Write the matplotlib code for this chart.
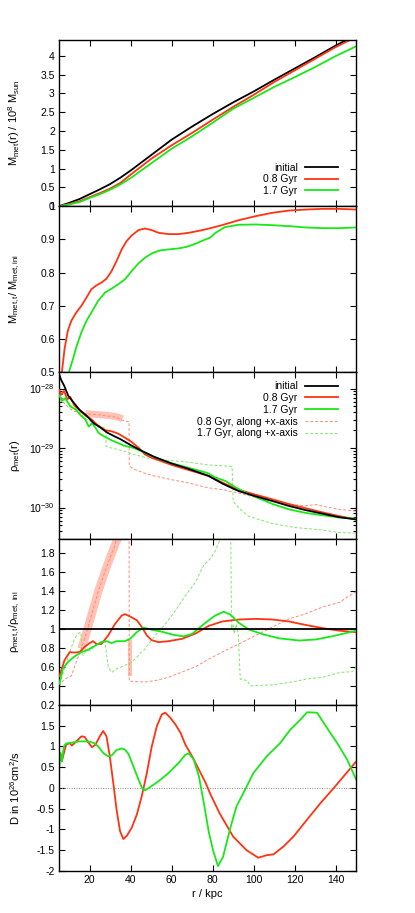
import numpy as np
import matplotlib
matplotlib.use("Agg")
import matplotlib.pyplot as plt
from matplotlib.ticker import FuncFormatter, MultipleLocator, LogLocator, NullFormatter

plt.rcParams['font.family'] = ['Liberation Sans', 'DejaVu Sans']
plt.rcParams['font.size'] = 7.5
plt.rcParams['axes.unicode_minus'] = False
plt.rcParams['mathtext.fontset'] = 'custom'
plt.rcParams['mathtext.rm'] = 'Liberation Sans'
plt.rcParams['mathtext.it'] = 'Liberation Sans'

# --- Colours ---
RED = '#ff3311'
GREEN = '#18e818'
RED_LIGHT = '#ff8a75'
GREEN_LIGHT = '#7fe86a'
BLUR = '#ffc2b5'

# --- Panel 1: enclosed metal mass (10^8 Msun) ---
r_mass = [5, 10, 15, 20, 25, 30, 35, 40, 50, 60, 70, 80, 90, 100, 110, 120, 130, 140, 150]
mass_ini = [0, 0.09, 0.19, 0.32, 0.45, 0.59, 0.76, 0.95, 1.36, 1.77, 2.12, 2.45, 2.76,
            3.05, 3.36, 3.66, 3.96, 4.27, 4.55]
mass_08 = [0, 0.06, 0.13, 0.24, 0.35, 0.47, 0.62, 0.84, 1.26, 1.62, 1.95, 2.30, 2.64,
           2.96, 3.30, 3.61, 3.92, 4.23, 4.50]
mass_17 = [0, 0.045, 0.11, 0.22, 0.32, 0.44, 0.58, 0.75, 1.14, 1.53, 1.86, 2.22, 2.59,
           2.88, 3.17, 3.43, 3.70, 3.99, 4.25]

# --- Panel 2: mass ratio ---
r_frac_08 = [6.4, 7.7, 9.3, 11, 13.4, 15.9, 18.4, 20.8, 23.3, 25.7, 28.2, 30.7, 33.1, 35.6,
             38, 40.5, 43.8, 47, 50.3, 53.6, 58.5, 63.4, 68.4, 74.9, 79, 84.6, 92.8, 101,
             109, 117.4, 125.6, 133.8, 141.6, 150]
frac_08 = [0.5, 0.57, 0.625, 0.655, 0.68, 0.70, 0.725, 0.75, 0.762, 0.77, 0.782, 0.805,
           0.835, 0.87, 0.895, 0.912, 0.928, 0.933, 0.928, 0.92, 0.916, 0.916, 0.92,
           0.928, 0.934, 0.943, 0.958, 0.97, 0.98, 0.987, 0.99, 0.992, 0.992, 0.99]
r_frac_17 = [9.8, 11.8, 13.4, 15.9, 18.4, 20.8, 24.1, 27.4, 30.7, 33.9, 37.2, 40.5, 43.8,
             47, 50.3, 54.4, 58.5, 63.4, 67.5, 71.6, 75.7, 79, 81, 85.9, 92.5, 101, 109,
             117.4, 125.6, 133.8, 141.6, 150]
frac_17 = [0.5, 0.54, 0.575, 0.62, 0.655, 0.68, 0.715, 0.74, 0.752, 0.765, 0.78, 0.805,
           0.828, 0.845, 0.858, 0.867, 0.87, 0.873, 0.878, 0.887, 0.898, 0.906, 0.918,
           0.937, 0.944, 0.945, 0.943, 0.94, 0.936, 0.934, 0.934, 0.936]

# --- Panel 3: metal density profiles ---
r_rho_ini = [5, 6, 7.5, 9.5, 12, 15, 18.5, 22, 25, 28.5, 32, 35, 40, 45, 51.5, 60, 68, 78,
             85, 92.5, 100, 109, 117, 125, 133.5, 141.5, 150]
rho_ini = [1.78e-28, 1.41e-28, 1.12e-28, 7.6e-29, 5.9e-29, 4.4e-29, 3.5e-29, 2.6e-29,
           2.24e-29, 1.82e-29, 1.58e-29, 1.41e-29, 1.12e-29, 9.1e-30, 7.1e-30, 5.5e-30,
           4.5e-30, 3.4e-30, 2.5e-30, 1.9e-30, 1.58e-30, 1.29e-30, 1.07e-30, 9.1e-31,
           7.9e-31, 6.9e-31, 6.3e-31]
r_rho_08 = [5, 6, 7.5, 9, 10.5, 12.5, 14.5, 17.5, 21, 24, 27.5, 31, 34, 37, 40.5, 44, 47,
            50.5, 55, 60, 68, 78, 85, 92.5, 100.5, 109, 117, 125, 133.5, 141.5, 150]
rho_08 = [9.5e-29, 7.9e-29, 9.1e-29, 6.6e-29, 7.2e-29, 5.2e-29, 4.5e-29, 3.6e-29,
          3.0e-29, 2.4e-29, 2.0e-29, 1.9e-29, 1.74e-29, 1.51e-29, 1.26e-29, 1.0e-29,
          7.8e-30, 6.8e-30, 6.0e-30, 5.2e-30, 4.3e-30, 3.4e-30, 2.6e-30, 2.0e-30,
          1.66e-30, 1.38e-30, 1.15e-30, 9.8e-31, 8.3e-31, 7.2e-31, 6.3e-31]
r_rho_17 = [5, 6.4, 8.1, 10.5, 13, 15.4, 17.9, 19.5, 21.1, 22.8, 24.4, 26.9, 30.1, 33.4,
            36.6, 41.6, 46.5, 51.4, 58, 67.8, 77.6, 81.3, 86.2, 91.1, 96, 100.9, 109.1,
            117.3, 125.5, 133.7, 141.9, 150]
rho_17 = [7.9e-29, 6.2e-29, 6.9e-29, 5.0e-29, 4.5e-29, 3.6e-29, 3.0e-29, 2.3e-29,
          2.6e-29, 2.2e-29, 1.78e-29, 1.58e-29, 1.38e-29, 1.23e-29, 1.1e-29, 1.0e-29,
          8.5e-30, 7.1e-30, 5.8e-30, 4.7e-30, 3.8e-30, 3.2e-30, 2.8e-30, 2.2e-30,
          1.78e-30, 1.51e-30, 1.15e-30, 9.3e-31, 8.1e-31, 7.4e-31, 6.8e-31, 6.5e-31]
r_rho_08x = [5, 7.3, 9.7, 12.1, 15.4, 20, 25, 30, 33, 35.1, 38, 39.2, 39.3, 41.7, 46.6,
             51.5, 59.7, 67.9, 77.7, 84.6, 92.8, 101, 109.2, 117.4, 125.6, 130.5, 133.8,
             142, 150]
rho_08x = [8.5e-29, 5.8e-29, 4.8e-29, 4.2e-29, 3.9e-29, 3.7e-29, 3.6e-29, 3.4e-29,
           3.3e-29, 3.0e-29, 2.8e-29, 2.8e-29, 5.0e-30, 4.4e-30, 3.8e-30, 3.4e-30,
           2.95e-30, 2.6e-30, 2.15e-30, 2.0e-30, 1.74e-30, 1.48e-30, 1.29e-30, 1.12e-30,
           1.07e-30, 1.12e-30, 1.05e-30, 9.3e-31, 8.7e-31]
r_rho_17x = [5, 9, 12.6, 18.7, 23.6, 27, 27.9, 28, 30.7, 35.6, 41.6, 48.2, 56.4, 67.9,
             77.7, 89.5, 90, 93.5, 97.6, 109, 120.4, 133.5, 141.7, 150]
rho_17x = [7.4e-29, 6.0e-29, 4.5e-29, 3.0e-29, 2.45e-29, 2.2e-29, 1.78e-29, 1.07e-29,
           1.0e-29, 9.1e-30, 7.8e-30, 6.8e-30, 6.3e-30, 5.8e-30, 5.2e-30, 4.9e-30,
           1.26e-30, 9.3e-31, 7.1e-31, 5.4e-31, 4.6e-31, 4.2e-31, 3.8e-31, 3.7e-31]
r_rho_blur = [18, 22, 26, 30, 34, 36]
rho_blur = [3.8e-29, 3.7e-29, 3.6e-29, 3.5e-29, 3.3e-29, 3.1e-29]

# --- Panel 4: density ratio ---
r_ratio_08 = [5.2, 7.7, 10.2, 12.6, 15.1, 17.5, 20, 21.6, 23.3, 25.7, 29, 32.3, 35.6,
              37.2, 39.7, 43, 45.4, 47.9, 50.3, 53.6, 58.5, 65.1, 71.6, 78, 84.6, 92.8,
              101, 109.2, 117.4, 125.6, 133.8, 142, 150]
ratio_08 = [0.5, 0.67, 0.755, 0.75, 0.755, 0.81, 0.85, 0.87, 0.84, 0.84, 0.93, 1.05, 1.14,
            1.155, 1.13, 1.09, 1.02, 0.93, 0.88, 0.86, 0.87, 0.895, 0.95, 1.03, 1.077,
            1.098, 1.105, 1.098, 1.077, 1.04, 1.007, 0.98, 0.965]
r_ratio_17 = [5.2, 6.9, 9.3, 12.6, 15.9, 19.2, 22.5, 25.7, 28.2, 30.7, 33.1, 37.2, 39.7,
              43, 46.2, 50.3, 55.2, 60.2, 65.9, 70, 74.9, 79, 81.3, 85.4, 88.7, 92.8,
              97.7, 104.3, 112.4, 122.3, 130.5, 138.7, 150]
ratio_17 = [0.42, 0.58, 0.65, 0.71, 0.755, 0.78, 0.82, 0.86, 0.87, 0.85, 0.87, 0.87, 0.895,
            0.965, 1.014, 0.99, 0.97, 0.94, 0.92, 0.947, 1.035, 1.105, 1.14, 1.18, 1.15,
            1.063, 0.993, 0.944, 0.9, 0.877, 0.888, 0.923, 0.98]
r_ratio_08x = [5, 7.7, 10.9, 13.4, 15.9, 18.4, 20.8, 24.1, 27.4, 29.8, 32.3, 35.5, 38.5,
               39.2, 39.3, 42, 47, 52, 58.5, 65, 71.6, 78, 84.6, 92.8, 101, 109.2, 117.4,
               125.6, 133.8, 142, 148.3, 150]
ratio_08x = [0.4, 0.47, 0.5, 0.65, 0.79, 0.96, 1.14, 1.39, 1.6, 1.74, 1.88, 2.15, 2.3, 2.3,
             0.45, 0.445, 0.44, 0.455, 0.49, 0.545, 0.6, 0.68, 0.755, 0.84, 0.93, 1.02,
             1.105, 1.16, 1.23, 1.28, 1.37, 1.39]
r_ratio_17x = [5.2, 7.7, 10.2, 12.6, 14.3, 15.6, 16.7, 18.4, 20.4, 22.5, 25, 27.4, 29,
               30.7, 33.1, 37.2, 40.5, 43.8, 47, 52, 56.9, 61.8, 66.7, 71.6, 75.7, 79,
               81.3, 83.8, 86.5, 88.8, 89.2, 90, 90.5, 91.5, 92.5, 93.5, 96.8, 98.4, 109,
               118.8, 125.5, 133.7, 142, 148.4, 150]
ratio_17x = [0.42, 0.58, 0.755, 0.895, 0.95, 0.965, 0.72, 0.77, 0.77, 0.825, 0.86, 0.87,
             0.6, 0.54, 0.58, 0.615, 0.65, 0.72, 0.79, 0.93, 1.05, 1.19, 1.35, 1.49, 1.67,
             1.74, 1.82, 1.95, 2.1, 2.2, 1.0, 1.05, 0.95, 1.05, 0.95, 0.47, 0.455, 0.4,
             0.41, 0.44, 0.47, 0.49, 0.54, 0.55, 0.6]
r_ratio_blur = [16, 18.4, 20.8, 24.1, 27.4, 29.8, 32.3, 34]
ratio_blur = [0.79, 0.96, 1.14, 1.39, 1.6, 1.74, 1.88, 1.97]
r_ratio_spike = [39.6, 39.6]
ratio_spike = [0.5, 0.88]

# --- Panel 5: diffusion coefficient (10^26 cm^2/s) ---
r_diff_08 = [5.2, 5.7, 6.4, 7.4, 8.5, 10.2, 11.3, 12.6, 14.3, 15.9, 17.5, 19.2, 21.1, 22.8,
             24.9, 26.6, 28.2, 29.8, 31.5, 33.1, 34.8, 36.4, 38, 40.5, 43, 45.4, 47.9,
             50.3, 52.8, 55.2, 56.9, 59.3, 61.8, 64.3, 66.7, 70, 73.3, 76.6, 79, 83.4, 90,
             96.6, 102.3, 106.4, 109.7, 114.6, 119.5, 126, 132.6, 139.2, 150]
diff_08 = [0.72, 0.84, 0.64, 0.84, 1.04, 1.08, 1.02, 1.08, 1.16, 1.24, 1.23, 1.1, 0.98,
           1.04, 1.24, 1.37, 1.24, 0.76, 0.12, -0.52, -1.04, -1.23, -1.16, -0.96, -0.64,
           -0.2, 0.36, 1.0, 1.49, 1.77, 1.81, 1.69, 1.53, 1.33, 1.04, 0.76, 0.44, 0.12,
           -0.16, -0.61, -1.17, -1.5, -1.68, -1.62, -1.6, -1.41, -1.17, -0.77, -0.37, 0.0,
           0.63]
r_diff_17 = [5.2, 5.7, 6.4, 7.4, 8.5, 10.2, 12.6, 15.1, 17.5, 20, 22.1, 24.1, 26.6, 29,
             30.7, 33.1, 35.6, 37.2, 38.9, 41.3, 43.8, 45.7, 47, 49.5, 53.6, 58.5, 63.4,
             66.7, 68.4, 70.8, 73.3, 75.7, 78.2, 80.2, 82.6, 85.1, 88.4, 91.6, 96.6, 99.8,
             106.4, 113, 117.9, 122.8, 126.1, 131, 134.3, 137.5, 140.8, 145.7, 150]
diff_17 = [0.52, 0.84, 0.64, 1.0, 1.07, 1.08, 1.1, 1.12, 1.12, 1.11, 1.08, 1.0, 0.84, 0.76,
           0.78, 0.91, 0.95, 0.92, 0.82, 0.52, 0.2, -0.02, -0.06, 0.02, 0.16, 0.36, 0.6,
           0.8, 0.83, 0.68, 0.28, -0.36, -1.08, -1.5, -1.88, -1.66, -1.01, -0.45, 0.03,
           0.35, 0.76, 1.08, 1.4, 1.64, 1.82, 1.81, 1.56, 1.32, 1.08, 0.68, 0.21]

x_ticks = [20, 40, 60, 80, 100, 120, 140]
LABEL_X = -0.125


def style_axis(ax):
    ax.set_xlim(5, 150)
    ax.set_xticks(x_ticks)
    ax.tick_params(which='both', direction='in', top=True, right=True, labelsize=7.5,
                   width=0.8, pad=3)
    ax.tick_params(which='major', length=4.5)
    ax.tick_params(which='minor', length=2.5)
    for s in ax.spines.values():
        s.set_linewidth(1.0)
    ax.yaxis.set_label_coords(LABEL_X, 0.5)


fmt = FuncFormatter(lambda v, p: '%g' % round(v, 6))
# top label of the D panel sits under the "0.2" of the panel above
fmt_d = FuncFormatter(lambda v, p: '' if v > 1.9 else '%g' % round(v, 6))

fig, axes = plt.subplots(5, 1, figsize=(4.15, 9.13), dpi=100, sharex=False)
plt.subplots_adjust(left=59 / 415, right=356 / 415, top=1 - 40 / 913, bottom=1 - 871 / 913,
                    hspace=0)
ax1, ax2, ax3, ax4, ax5 = axes

# --- 1 ---
ax1.plot(r_mass, mass_ini, color='black', lw=1.3, label='initial')
ax1.plot(r_mass, mass_08, color=RED, lw=1.3, label='0.8 Gyr')
ax1.plot(r_mass, mass_17, color=GREEN, lw=1.3, label='1.7 Gyr')
ax1.set_ylim(0, 4.42)
ax1.yaxis.set_major_locator(MultipleLocator(0.5))
ax1.yaxis.set_major_formatter(fmt)
ax1.set_ylabel(r'M$_{\rm met}$(r) / 10$^8$ M$_{\rm sun}$', fontsize=8)
ax1.legend(loc='lower right', bbox_to_anchor=(0.965, 0.02), frameon=False, markerfirst=False,
           handlelength=3.2, handletextpad=0.7, labelspacing=0.12, borderpad=0.2)

# --- 2 ---
ax2.plot(r_frac_08, frac_08, color=RED, lw=1.3)
ax2.plot(r_frac_17, frac_17, color=GREEN, lw=1.3)
ax2.set_ylim(0.5, 1.0)
ax2.yaxis.set_major_locator(MultipleLocator(0.1))
ax2.yaxis.set_major_formatter(fmt)
ax2.set_ylabel(r'M$_{\rm met,t}$/ M$_{\rm met,ini}$', fontsize=8)

# --- 3 ---
ax3.set_yscale('log')
ax3.plot(r_rho_blur, rho_blur, color=BLUR, lw=5, solid_capstyle='butt', zorder=1)
ax3.plot(r_rho_ini, rho_ini, color='black', lw=1.3, label='initial', zorder=4)
ax3.plot(r_rho_08, rho_08, color=RED, lw=1.3, label='0.8 Gyr', zorder=3)
ax3.plot(r_rho_17, rho_17, color=GREEN, lw=1.3, label='1.7 Gyr', zorder=3)
ax3.plot(r_rho_08x, rho_08x, color=RED_LIGHT, lw=0.7, ls=(0, (3, 2)),
         label='0.8 Gyr, along +x-axis', zorder=2)
ax3.plot(r_rho_17x, rho_17x, color=GREEN_LIGHT, lw=0.7, ls=(0, (3, 2)),
         label='1.7 Gyr, along +x-axis', zorder=2)
ax3.set_ylim(3.0e-31, 1.87e-28)
ax3.yaxis.set_major_locator(LogLocator(base=10, numticks=10))
ax3.yaxis.set_minor_locator(LogLocator(base=10, subs=np.arange(2, 10), numticks=10))
ax3.yaxis.set_minor_formatter(NullFormatter())
ax3.set_ylabel(r'$\rho_{\rm met}$(r)', fontsize=8)
ax3.legend(loc='upper right', bbox_to_anchor=(0.965, 0.99), frameon=False, markerfirst=False,
           handlelength=3.2, handletextpad=0.7, labelspacing=0.17, borderpad=0.2)

# --- 4 ---
ax4.plot(r_ratio_blur, ratio_blur, color=BLUR, lw=6, solid_capstyle='butt', zorder=1)
ax4.plot(r_ratio_spike, ratio_spike, color=BLUR, lw=3, solid_capstyle='butt', zorder=1)
ax4.axhline(1.0, color='black', lw=1.3, zorder=4)
ax4.plot(r_ratio_08x, ratio_08x, color=RED_LIGHT, lw=0.7, ls=(0, (3, 2)), zorder=2)
ax4.plot(r_ratio_17x, ratio_17x, color=GREEN_LIGHT, lw=0.7, ls=(0, (3, 2)), zorder=2)
ax4.plot(r_ratio_08, ratio_08, color=RED, lw=1.3, zorder=3)
ax4.plot(r_ratio_17, ratio_17, color=GREEN, lw=1.3, zorder=3)
ax4.set_ylim(0.2, 1.95)
ax4.set_yticks(np.arange(0.2, 1.81, 0.2))
ax4.yaxis.set_major_formatter(fmt)
ax4.set_ylabel(r'$\rho_{\rm met,t}$/$\rho_{\rm met,\ ini}$', fontsize=8)

# --- 5 ---
ax5.axhline(0, color='#888888', lw=0.7, ls=(0, (1, 1.5)))
ax5.plot(r_diff_08, diff_08, color=RED, lw=1.3)
ax5.plot(r_diff_17, diff_17, color=GREEN, lw=1.3)
ax5.set_ylim(-2, 2)
ax5.yaxis.set_major_locator(MultipleLocator(0.5))
ax5.yaxis.set_major_formatter(fmt_d)
ax5.set_ylabel(r'D in 10$^{26}$cm$^2$/s', fontsize=8)
ax5.set_xlabel('r / kpc', labelpad=3, fontsize=8)

for ax in axes:
    style_axis(ax)
for ax in axes[:-1]:
    ax.tick_params(labelbottom=False)
ax5.xaxis.set_major_formatter(fmt)

fig.savefig('out.png', dpi=100)
